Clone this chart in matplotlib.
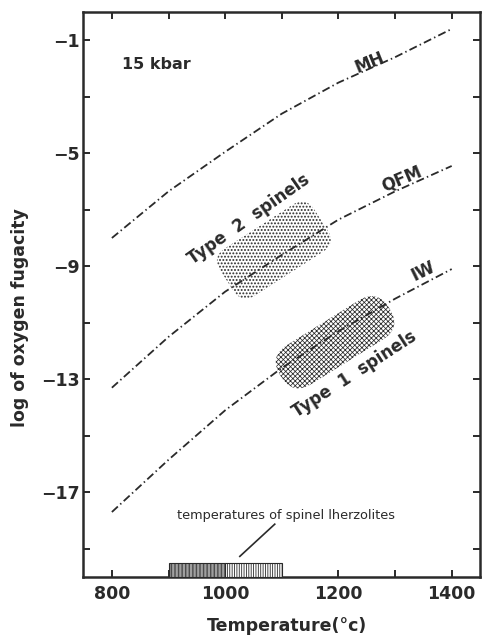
import numpy as np
import matplotlib
matplotlib.use("Agg")
import matplotlib.pyplot as plt
from matplotlib.patches import FancyBboxPatch, Rectangle
from matplotlib.transforms import Affine2D

# buffer curves (15 kbar)
temps = [800, 900, 1000, 1100, 1200, 1300, 1400]
mh = [-8.0, -6.35, -4.95, -3.6, -2.5, -1.6, -0.6]
qfm = [-13.3, -11.5, -9.9, -8.6, -7.35, -6.35, -5.45]
iw = [-17.7, -15.85, -14.1, -12.6, -11.3, -10.15, -9.1]

# spinel fields: centre (T, log fO2)
type2_centre = (1086, -8.43)
type1_centre = (1194, -11.69)

# temperature range of spinel lherzolites
lherz_dense = (900, 1000)
lherz_open = (1000, 1100)

x_ticks = [800, 900, 1000, 1100, 1200, 1300, 1400]
x_labels = ["800", "", "1000", "", "1200", "", "1400"]
y_ticks = [-1, -3, -5, -7, -9, -11, -13, -15, -17, -19]
y_labels = ["\u22121", "", "\u22125", "", "\u22129", "", "\u221213", "", "\u221217", ""]

fig = plt.figure(figsize=(4.82, 6.41), dpi=100)
ax = fig.add_axes([83 / 482, 64 / 641, 397 / 482, 565 / 641])
ax.set_xlim(749, 1450)
ax.set_ylim(-20, 0)

ink = "#2a2a2a"
for s in ax.spines.values():
    s.set_linewidth(1.8)
    s.set_color(ink)

ax.set_xticks(x_ticks)
ax.set_xticklabels(x_labels, fontsize=12.5, fontweight="bold", color=ink)
ax.set_yticks(y_ticks)
ax.set_yticklabels(y_labels, fontsize=12.5, fontweight="bold", color=ink)
ax.tick_params(direction="in", length=5, width=1.4, color=ink,
               top=True, right=True)
ax.tick_params(axis="x", pad=6)
ax.tick_params(axis="y", pad=2)

ax.set_xlabel("Temperature(\u00b0c)", fontsize=12.5, fontweight="bold", color=ink)
ax.xaxis.set_label_coords(0.515, -0.07)
ax.set_ylabel("log of oxygen fugacity", fontsize=12.5, fontweight="bold", color=ink)
ax.yaxis.set_label_coords(-0.135, 0.46)

dash = (4.5, 1.8, 0.8, 1.8)
for curve in (mh, qfm, iw):
    ax.plot(temps, curve, color=ink, lw=1.3, dashes=dash, zorder=4)


def blob(t, f, curve, length, width, radius, hatch, hlw):
    x, y = ax.transData.transform((t, f))
    p1 = ax.transData.transform((t - 20, np.interp(t - 20, temps, curve)))
    p2 = ax.transData.transform((t + 20, np.interp(t + 20, temps, curve)))
    ang = np.degrees(np.arctan2(p2[1] - p1[1], p2[0] - p1[0]))
    tr = Affine2D().rotate_deg(ang).translate(x, y)
    with plt.rc_context({"hatch.linewidth": hlw}):
        p = FancyBboxPatch((-length / 2, -width / 2), length, width,
                           boxstyle=f"round,pad=0,rounding_size={radius}",
                           transform=tr, facecolor="white", edgecolor=ink,
                           lw=0, hatch=hatch, zorder=2)
        if hasattr(p, "set_hatch_linewidth"):
            p.set_hatch_linewidth(hlw)
    ax.add_patch(p)


blob(*type2_centre, qfm, 112, 56, 16, ".....", 0.9)
blob(*type1_centre, iw, 128, 46, 22, "xxxxxxx", 0.55)

# lherzolite temperature bar on the T axis
for (t0, t1), h in ((lherz_dense, "|" * 12), (lherz_open, "|" * 7)):
    with plt.rc_context({"hatch.linewidth": 0.6}):
        r = Rectangle((t0, -20), t1 - t0, 0.5, facecolor="white",
                      edgecolor=ink, lw=0.8, hatch=h, zorder=3, clip_on=False)
        if hasattr(r, "set_hatch_linewidth"):
            r.set_hatch_linewidth(0.6)
    ax.add_patch(r)

ax.plot([1087.6, 1025.9], [-18.13, -19.27], color=ink, lw=1.2)
ax.text(1108, -17.83, "temperatures of spinel lherzolites", fontsize=9.3,
        ha="center", va="center", color=ink)

ax.text(817, -1.85, "15 kbar", fontsize=11.5, fontweight="bold",
        ha="left", va="center", color=ink)

lab = dict(fontsize=12, fontweight="bold", ha="center", va="center",
           color=ink, rotation_mode="anchor")
ax.text(1041.8, -7.34, "Type  2  spinels", rotation=35, **lab)
ax.text(1228.8, -12.81, "Type  1  spinels", rotation=33, **lab)
ax.text(1255, -1.78, "MH", rotation=22, **lab)
ax.text(1311, -5.9, "QFM", rotation=23, **lab)
ax.text(1350, -9.18, "IW", rotation=26, **lab)

fig.savefig("out.png", dpi=100)
